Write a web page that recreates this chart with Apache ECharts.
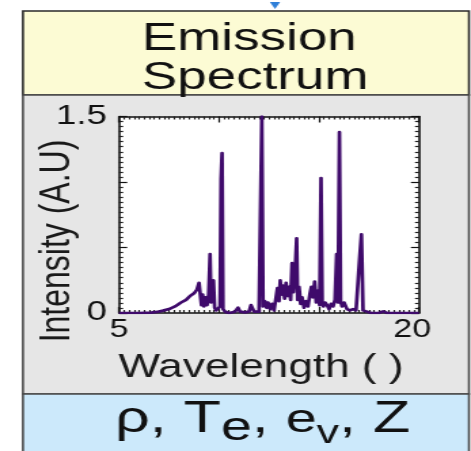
<!DOCTYPE html>
<html>
<head>
<meta charset="utf-8">
<script src="https://cdn.jsdelivr.net/npm/echarts@6/dist/echarts.min.js"></script>
<style>
html,body{margin:0;padding:0;background:#fff;overflow:hidden;width:471px;height:451px;}
#chart{width:347px;height:451px;transform:scaleX(1.35735);transform-origin:0 0;}
</style>
</head>
<body>
<div id="chart"></div>
<script>
// ---- data ----
const wavelength = [5.0, 6.0, 6.6, 6.9, 7.2, 7.5, 7.8, 8.1, 8.35, 8.55, 8.75, 8.9, 9.0, 9.05, 9.12, 9.18, 9.25, 9.32, 9.4, 9.48,
  9.55, 9.6, 9.66, 9.72, 9.78, 9.85, 9.95, 10.05, 10.1, 10.15, 10.2, 10.3, 10.5, 10.8, 10.95, 11.05, 11.3, 11.5, 11.6, 11.75,
  12.0, 12.08, 12.14, 12.2, 12.3, 12.38, 12.45, 12.55, 12.65, 12.75, 12.85, 12.92, 13.0, 13.06, 13.12, 13.2, 13.28, 13.35, 13.42, 13.5,
  13.58, 13.65, 13.72, 13.8, 13.88, 13.93, 14.0, 14.08, 14.15, 14.25, 14.35, 14.45, 14.55, 14.62, 14.7, 14.78, 14.86, 14.95, 15.03, 15.1,
  15.16, 15.22, 15.3, 15.4, 15.5, 15.6, 15.7, 15.8, 15.88, 15.95, 16.02, 16.08, 16.15, 16.25, 16.4, 16.55, 16.7, 16.85, 16.95, 17.05,
  17.12, 17.2, 17.3, 17.6, 18.0, 18.2, 18.4, 19.0, 20.0];
const intensity = [0, 0, 0.003, 0.008, 0.018, 0.03, 0.05, 0.08, 0.10, 0.13, 0.15, 0.18, 0.23, 0.24, 0.06, 0.14, 0.05, 0.12, 0.06, 0.14,
  0.45, 0.08, 0.18, 0.25, 0.04, 0.02, 0.01, 0.05, 1.02, 1.22, 0.03, 0.01, 0.0, 0.01, 0.04, 0.01, 0.005, 0.01, 0.06, 0.01,
  0.01, 0.02, 1.5, 0.05, 0.09, 0.04, 0.08, 0.03, 0.07, 0.02, 0.12, 0.19, 0.09, 0.25, 0.14, 0.21, 0.11, 0.23, 0.13, 0.20,
  0.10, 0.38, 0.16, 0.30, 0.57, 0.10, 0.20, 0.07, 0.12, 0.04, 0.09, 0.05, 0.15, 0.20, 0.12, 0.24, 0.08, 0.17, 0.06, 1.03,
  0.09, 0.05, 0.08, 0.06, 0.03, 0.07, 0.05, 0.10, 0.45, 0.08, 1.38, 0.09, 0.05, 0.08, 0.03, 0.02, 0.03, 0.02, 0.03, 0.46,
  0.60, 0.02, 0.01, 0.0, 0.0, 0.012, 0.0, 0.0, 0.0];
const xTickLabels = [5, 20];
const yTickLabels = [0, 1.5];
const titleLines = ['Emission', 'Spectrum'];
const xTitle = 'Wavelength ( )';
const yTitle = 'Intensity (A.U)';

const seriesData = wavelength.map((w, i) => [w, intensity[i]]);

const FONT = '"Liberation Sans", Arial, Helvetica, sans-serif';
const AX = '#111';

function axisBase(showLabels, minorSplit) {
  return {
    axisLine: { show: true, onZero: false, lineStyle: { color: AX, width: 1.6 } },
    axisTick: { show: true, inside: true, length: 6, lineStyle: { color: AX, width: 1.2 } },
    minorTick: { show: true, splitNumber: minorSplit, length: 3, lineStyle: { color: '#222', width: 1.2 } },
    splitLine: { show: false },
    minorSplitLine: { show: false },
    axisLabel: { show: showLabels }
  };
}

const chart = echarts.init(document.getElementById('chart'), null, { renderer: 'canvas' });
chart.setOption({
  animation: false,
  backgroundColor: '#ffffff',
  grid: { left: 87.7, right: 38.3, top: 116.5, bottom: 138, show: true, backgroundColor: '#ffffff', borderWidth: 0,
          containLabel: false, outerBoundsMode: 'none' },
  xAxis: [
    Object.assign(axisBase(true, 20), {
      type: 'value', min: 5, max: 20, interval: 5, position: 'bottom',
      axisLabel: {
        show: true, margin: 5, fontSize: 25, fontFamily: FONT, color: AX,
        formatter: v => (xTickLabels.indexOf(v) < 0 ? '' : (v === 20 ? '{r|' + v + '}' : '{n|' + v + '}')),
        rich: { r: { fontSize: 25, fontFamily: FONT, color: AX, padding: [0, 10, 0, 0] }, n: { fontSize: 25, fontFamily: FONT, color: AX } }
      },
      name: xTitle, nameLocation: 'middle', nameGap: 39,
      nameTextStyle: { fontSize: 32.5, fontFamily: FONT, color: '#1a1a1a', padding: [0, 12, 0, 0] }
    }),
    Object.assign(axisBase(false, 20), { type: 'value', min: 5, max: 20, interval: 5, position: 'top' })
  ],
  yAxis: [
    Object.assign(axisBase(true, 13), {
      type: 'value', min: 0, max: 1.5, interval: 0.5, position: 'left',
      axisLabel: {
        show: true, margin: 9, fontSize: 27, fontFamily: FONT, color: AX, padding: [0, 0, 7, 0],
        formatter: v => (yTickLabels.indexOf(v) < 0 ? '' : String(v))
      }
    }),
    Object.assign(axisBase(false, 13), { type: 'value', min: 0, max: 1.5, interval: 0.5, position: 'right' })
  ],
  series: [{
    type: 'line', data: seriesData, xAxisIndex: 0, yAxisIndex: 0,
    showSymbol: false, symbol: 'none', clip: true,
    lineStyle: { color: '#3f0a6b', width: 2.7, join: 'round' },
    z: 3
  }],
  graphic: { elements: [
    { type: 'rect', z: -10, shape: { x: 16.9, y: 11, width: 328.6, height: 84 }, style: { fill: '#fcfbd4', stroke: '#2a2a2a', lineWidth: 1.6 } },
    { type: 'rect', z: -10, shape: { x: 16.9, y: 95, width: 328.6, height: 299 }, style: { fill: '#e6e6e6', stroke: '#4a4a4a', lineWidth: 1.6 } },
    { type: 'rect', z: -10, shape: { x: 16.9, y: 394, width: 328.6, height: 70 }, style: { fill: '#cce9fb', stroke: '#4a4a4a', lineWidth: 1.6 } },
    { type: 'polygon', z: 5, shape: { points: [[198.8, 2], [206.4, 2], [202.6, 9]] }, style: { fill: '#2f7fd8' } },
    { type: 'text', z: 5, x: 104.6, y: 39.5, style: { text: titleLines[0], font: '39px ' + FONT, fill: '#111', align: 'left', verticalAlign: 'middle' } },
    { type: 'text', z: 5, x: 104.6, y: 78, style: { text: titleLines[1], font: '39px ' + FONT, fill: '#111', align: 'left', verticalAlign: 'middle' } },
    { type: 'text', z: 5, x: 42.4, y: 241, rotation: Math.PI / 2,
      style: { text: yTitle, font: '32px ' + FONT, fill: '#1a1a1a', align: 'center', verticalAlign: 'middle' } },
    { type: 'text', z: 5, x: 193.5, y: 423.5, style: {
        text: '{m|ρ, T}{s|e}{m|, }{e|e}{v|v}{m|, Z}', align: 'center', verticalAlign: 'middle',
        rich: {
          m: { fontSize: 45, fontFamily: FONT, fill: '#111', verticalAlign: 'top' },
          s: { fontSize: 41, fontFamily: FONT, fill: '#111', verticalAlign: 'top', padding: [11, 0, 0, 0] },
          e: { fontSize: 41, fontFamily: FONT, fill: '#111', verticalAlign: 'top', padding: [3, 0, 0, 0] },
          v: { fontSize: 33, fontFamily: FONT, fill: '#111', verticalAlign: 'top', padding: [20, 0, 0, 0] }
        }
      } }
  ] }
});
</script>
</body>
</html>
